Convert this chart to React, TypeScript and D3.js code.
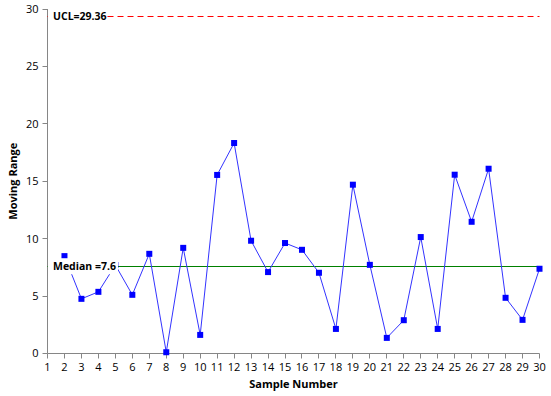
import React from 'react';
import * as d3 from 'd3';

// moving range per sample (sample 1 has no range)
const samples = [2, 3, 4, 5, 6, 7, 8, 9, 10, 11, 12, 13, 14, 15, 16, 17, 18, 19, 20, 21, 22, 23, 24, 25, 26, 27, 28, 29, 30];
const movingRange = [8.48, 4.76, 5.37, 7.7, 5.11, 8.68, 0.11, 9.2, 1.62, 15.55, 18.33, 9.82, 7.09, 9.62, 9.03, 7.03, 2.14, 14.7, 7.72, 1.36, 2.9, 10.14, 2.14, 15.57, 11.47, 16.09, 4.85, 2.93, 7.38];
const xTicks = d3.range(1, 31);
const yTicks = [0, 5, 10, 15, 20, 25, 30];
const ucl = 29.36;
const median = 7.6;

const W = 551;
const H = 396;
const font = "'Open Sans', 'Liberation Sans', sans-serif";

export default function App() {
  const x = d3.scaleLinear().domain([1, 30]).range([47.5, 539.5]);
  const y = d3.scaleLinear().domain([0, 30]).range([353.5, 9]);

  const pts = samples.map((s, i) => ({ s, v: movingRange[i] }));
  const line = d3.line<{ s: number; v: number }>()
    .x(d => x(d.s))
    .y(d => y(d.v));

  const axisColor = '#868686';
  const snap = (v: number) => Math.round(v - 0.5) + 0.5;

  return (
    <div style={{ position: 'absolute', left: 0, top: 0 }}>
      <svg width={W} height={H} style={{ display: 'block', background: '#fff' }} fontFamily={font}>
        {/* axes */}
        <line x1={x(1)} x2={x(1)} y1={y(30)} y2={y(0)} stroke={axisColor} />
        <line x1={x(1)} x2={x(30)} y1={y(0)} y2={y(0)} stroke={axisColor} />
        {yTicks.map(t => (
          <g key={'y' + t}>
            <line x1={x(1) - 5} x2={x(1)} y1={snap(y(t))} y2={snap(y(t))} stroke={axisColor} />
            <text x={x(1) - 9} y={y(t)} dy="0.35em" textAnchor="end" fontSize={11} fill="#000">{t}</text>
          </g>
        ))}
        {xTicks.map(t => (
          <g key={'x' + t}>
            <line x1={snap(x(t))} x2={snap(x(t))} y1={y(0)} y2={y(0) + 5} stroke={axisColor} />
            <text x={x(t)} y={y(0) + 17} textAnchor="middle" fontSize={11} fill="#000">{t}</text>
          </g>
        ))}

        {/* control lines */}
        <line x1={x(1)} x2={x(30)} y1={snap(y(ucl))} y2={snap(y(ucl))} stroke="#ff0000" strokeDasharray="6,4" />
        <line x1={x(1)} x2={x(30)} y1={snap(y(median))} y2={snap(y(median))} stroke="#008000" />

        {/* data */}
        <path d={line(pts) || ''} fill="none" stroke="#3333ff" strokeWidth={1} />
        {pts.map(p => (
          <rect key={p.s} x={x(p.s) - 3} y={y(p.v) - 3} width={6} height={6} fill="#0000ff" />
        ))}

        {/* labels */}
        <rect x={48} y={y(ucl) - 7} width={58} height={14} fill="#fff" />
        <text x={53} y={y(ucl)} dy="0.35em" fontSize={10.5} fontWeight="bold" fill="#000">UCL=29.36</text>
        <rect x={48} y={y(median) - 8} width={70} height={16} fill="#fff" />
        <text x={53} y={y(median)} dy="0.35em" fontSize={10.5} fontWeight="bold" fill="#000">Median =7.6</text>

        <text x={(x(1) + x(30)) / 2} y={388} textAnchor="middle" fontSize={11} fontWeight="bold" fill="#000">Sample Number</text>
        <text transform={`translate(17,${(y(0) + y(30)) / 2}) rotate(-90)`} textAnchor="middle" fontSize={11} fontWeight="bold" fill="#000">Moving Range</text>
      </svg>
    </div>
  );
}
